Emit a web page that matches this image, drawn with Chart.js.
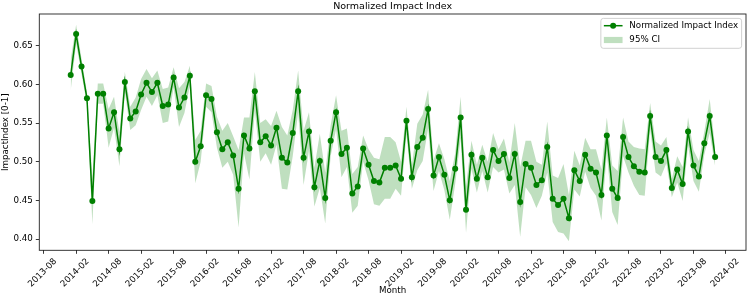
<!DOCTYPE html>
<html>
<head>
<meta charset="utf-8">
<script src="https://cdn.jsdelivr.net/npm/chart.js@4.4.1/dist/chart.umd.min.js"></script>
<style>
  html, body { margin: 0; padding: 0; background: #fff; }
</style>
</head>
<body>
<canvas id="impactChart" width="750" height="299"></canvas>
<script>
const chartTitle = "Normalized Impact Index";
const firstMonth = "2014-01";

// monthly index values, 2014-01 .. 2023-12
const impactIndex = [
  0.612, 0.665, 0.623, 0.582, 0.449, 0.588, 0.588, 0.543, 0.564, 0.516,
  0.603, 0.556, 0.565, 0.587, 0.602, 0.590, 0.602, 0.572, 0.574, 0.609,
  0.570, 0.583, 0.611, 0.500, 0.520, 0.586, 0.581, 0.538, 0.516, 0.525,
  0.508, 0.465, 0.534, 0.517, 0.591, 0.525, 0.533, 0.521, 0.544, 0.505,
  0.499, 0.537, 0.591, 0.505, 0.539, 0.467, 0.501, 0.453, 0.527, 0.564,
  0.510, 0.518, 0.459, 0.468, 0.517, 0.496, 0.475, 0.473, 0.492, 0.492,
  0.495, 0.478, 0.553, 0.480, 0.519, 0.531, 0.568, 0.482, 0.506, 0.483,
  0.450, 0.491, 0.557, 0.438, 0.509, 0.478, 0.505, 0.480, 0.515, 0.501,
  0.510, 0.479, 0.510, 0.448, 0.497, 0.492, 0.470, 0.476, 0.519, 0.452,
  0.444, 0.452, 0.427, 0.489, 0.475, 0.509, 0.491, 0.486, 0.457, 0.534,
  0.465, 0.453, 0.532, 0.506, 0.494, 0.487, 0.486, 0.559, 0.506, 0.501,
  0.515, 0.466, 0.490, 0.471, 0.539, 0.495, 0.481, 0.524, 0.559, 0.506
];

// half width of the 95% CI band at each month
const ciHalfWidth = [
  0.020, 0.012, 0.010, 0.008, 0.030, 0.013, 0.013, 0.025, 0.020, 0.022,
  0.013, 0.015, 0.018, 0.020, 0.018, 0.018, 0.016, 0.022, 0.022, 0.013,
  0.025, 0.020, 0.013, 0.028, 0.020, 0.015, 0.017, 0.020, 0.024, 0.025,
  0.025, 0.050, 0.023, 0.040, 0.025, 0.025, 0.022, 0.025, 0.022, 0.040,
  0.035, 0.030, 0.027, 0.035, 0.025, 0.025, 0.035, 0.033, 0.020, 0.022,
  0.030, 0.025, 0.025, 0.025, 0.017, 0.020, 0.030, 0.030, 0.040, 0.040,
  0.030, 0.022, 0.018, 0.015, 0.030, 0.030, 0.025, 0.020, 0.018, 0.020,
  0.025, 0.020, 0.027, 0.030, 0.018, 0.018, 0.017, 0.020, 0.022, 0.015,
  0.020, 0.020, 0.040, 0.045, 0.030, 0.035, 0.030, 0.020, 0.033, 0.030,
  0.035, 0.045, 0.030, 0.025, 0.020, 0.022, 0.025, 0.030, 0.033, 0.023,
  0.030, 0.035, 0.025, 0.020, 0.025, 0.030, 0.030, 0.017, 0.020, 0.020,
  0.017, 0.012, 0.017, 0.022, 0.018, 0.020, 0.020, 0.015, 0.022, 0.012
];

const xTickLabels = [
  "2013-08", "2014-02", "2014-08", "2015-02", "2015-08", "2016-02",
  "2016-08", "2017-02", "2017-08", "2018-02", "2018-08", "2019-02",
  "2019-08", "2020-02", "2020-08", "2021-02", "2021-08", "2022-02",
  "2022-08", "2023-02", "2023-08", "2024-02"
];
const yTicks = [0.40, 0.45, 0.50, 0.55, 0.60, 0.65];

const GREEN = "#008000";
const BAND = "rgba(0,128,0,0.25)";
const FONT = "'DejaVu Sans'";
Chart.defaults.font.family = FONT;
Chart.defaults.color = "#000";

function monthIndex(label) {
  const [y, m] = label.split("-").map(Number);
  const [y0, m0] = firstMonth.split("-").map(Number);
  return (y - y0) * 12 + (m - m0);
}
function monthLabel(idx) {
  const [y0, m0] = firstMonth.split("-").map(Number);
  const t = y0 * 12 + (m0 - 1) + Math.round(idx);
  const y = Math.floor(t / 12), m = t % 12 + 1;
  return y + "-" + String(m).padStart(2, "0");
}

const mainPts = impactIndex.map((v, i) => ({ x: i, y: v }));
const lowPts = impactIndex.map((v, i) => ({ x: i, y: v - ciHalfWidth[i] }));
const highPts = impactIndex.map((v, i) => ({ x: i, y: v + ciHalfWidth[i] }));

// frame, title and in-axes legend, drawn the way matplotlib does it
const overlay = {
  id: "overlay",
  afterDraw(chart) {
    const { ctx, chartArea: a } = chart;
    const ds = chart.data.datasets;
    ctx.save();
    ctx.strokeStyle = "#222";
    ctx.lineWidth = 0.9;
    ctx.strokeRect(a.left, a.top, a.right - a.left, a.bottom - a.top);

    ctx.fillStyle = "#000";
    ctx.font = "9.5px " + FONT;
    ctx.textAlign = "center";
    ctx.textBaseline = "alphabetic";
    ctx.fillText(chartTitle, (a.left + a.right) / 2, 8.6);

    ctx.font = "8.7px " + FONT;
    const textW = Math.max(ctx.measureText(ds[0].label).width, ctx.measureText(ds[2].label).width);
    const right = a.right - 4.4, top = a.top + 4.4;
    const left = right - 3.5 - textW - 28.5;
    const bottom = top + 29.9;
    ctx.beginPath();
    ctx.roundRect(left, top, right - left, bottom - top, 2.5);
    ctx.fillStyle = "rgba(255,255,255,0.8)";
    ctx.fill();
    ctx.strokeStyle = "#cccccc";
    ctx.lineWidth = 0.9;
    ctx.stroke();

    const y1 = top + 7.3, y2 = top + 21.6;
    ctx.strokeStyle = GREEN;
    ctx.lineWidth = 1.5;
    ctx.beginPath();
    ctx.moveTo(left + 3, y1);
    ctx.lineTo(left + 21.7, y1);
    ctx.stroke();
    ctx.fillStyle = GREEN;
    ctx.beginPath();
    ctx.arc(left + 12.3, y1, 3, 0, Math.PI * 2);
    ctx.fill();
    ctx.fillStyle = BAND;
    ctx.fillRect(left + 3, y2 - 3.1, 18.7, 6.2);

    ctx.fillStyle = "#000";
    ctx.textAlign = "left";
    ctx.textBaseline = "middle";
    ctx.fillText(ds[0].label, left + 28.5, y1);
    ctx.fillText(ds[2].label, left + 28.5, y2);
    ctx.restore();
  }
};

new Chart(document.getElementById("impactChart"), {
  type: "line",
  data: {
    datasets: [
      {
        label: "Normalized Impact Index",
        data: mainPts,
        borderColor: GREEN,
        backgroundColor: GREEN,
        borderWidth: 1.5,
        pointRadius: 3,
        pointBackgroundColor: GREEN,
        pointBorderWidth: 0,
        tension: 0,
        fill: false,
        order: 0
      },
      {
        label: "ci-low",
        data: lowPts,
        borderWidth: 0,
        pointRadius: 0,
        fill: false,
        order: 2
      },
      {
        label: "95% CI",
        data: highPts,
        borderWidth: 0,
        pointRadius: 0,
        backgroundColor: BAND,
        fill: "-1",
        order: 1
      }
    ]
  },
  options: {
    responsive: false,
    animation: false,
    layout: { padding: { top: 14, right: 2.3, left: 0, bottom: 0 } },
    plugins: {
      legend: { display: false },
      tooltip: { enabled: false },
      title: { display: false }
    },
    scales: {
      x: {
        type: "linear",
        min: -5.8,
        max: 124.7,
        afterBuildTicks: s => { s.ticks = xTickLabels.map(l => ({ value: monthIndex(l) })); },
        afterFit: s => { s.height = 48.7; },
        ticks: {
          autoSkip: false,
          minRotation: 45,
          maxRotation: 45,
          labelOffset: 11.8,
          padding: 2.5,
          font: { size: 8.7 },
          color: "#000",
          callback: v => monthLabel(v)
        },
        grid: { drawOnChartArea: false, tickLength: 3.5, tickColor: "#222", tickWidth: 0.9 },
        border: { display: false },
        title: { display: true, text: "Month", font: { size: 8.7 }, color: "#000", padding: { top: 0, bottom: 2.8 } }
      },
      y: {
        min: 0.3854,
        max: 0.691,
        afterBuildTicks: s => { s.ticks = yTicks.map(v => ({ value: v })); },
        afterFit: s => { s.width = 39.3; },
        ticks: {
          font: { size: 8.7 },
          color: "#000",
          padding: 3,
          callback: v => v.toFixed(2)
        },
        grid: { drawOnChartArea: false, tickLength: 3.5, tickColor: "#222", tickWidth: 0.9 },
        border: { display: false },
        title: { display: true, text: "ImpactIndex [0-1]", font: { size: 8.7 }, color: "#000", padding: { top: 0.5, bottom: 0 } }
      }
    }
  },
  plugins: [overlay]
});
</script>
</body>
</html>
